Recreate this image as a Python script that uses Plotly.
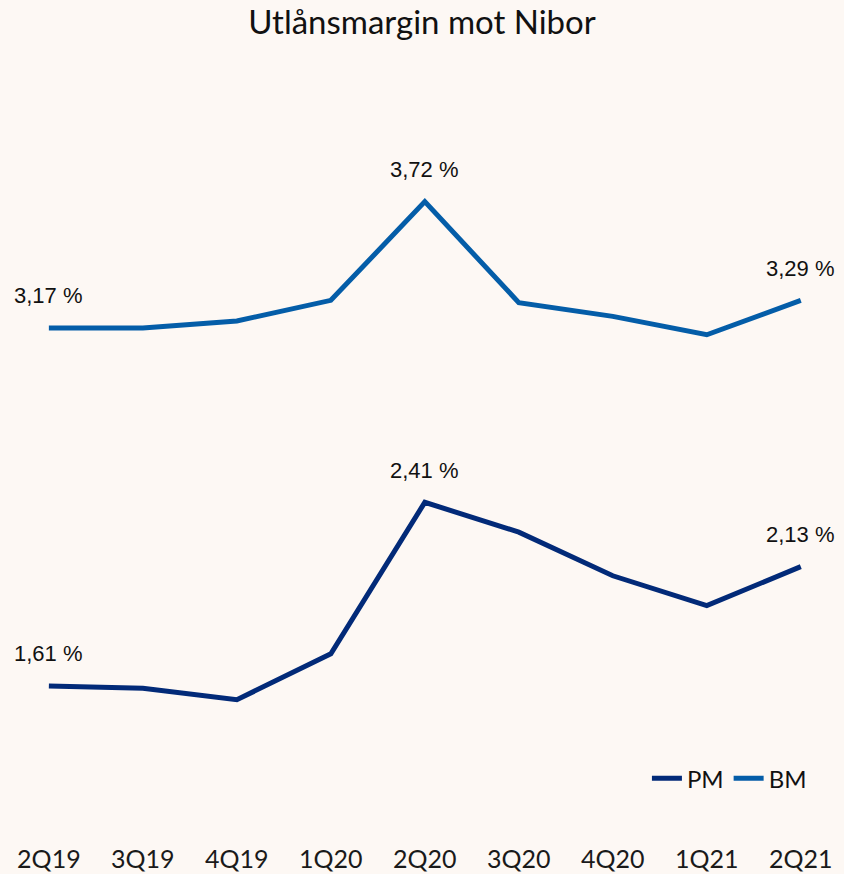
import plotly.graph_objects as go

quarters = ["2Q19", "3Q19", "4Q19", "1Q20", "2Q20", "3Q20", "4Q20", "1Q21", "2Q21"]
pm = [1.61, 1.60, 1.55, 1.75, 2.41, 2.28, 2.09, 1.96, 2.13]
bm = [3.17, 3.17, 3.20, 3.29, 3.72, 3.28, 3.22, 3.14, 3.29]
label_idx = [0, 4, 8]

PM_COLOR = "#022A78"
BM_COLOR = "#045DA8"
BG = "#FDF8F4"
FONT = "Lato"
LABEL_FONT = "Liberation Sans"

fig = go.Figure()
fig.add_trace(go.Scatter(x=quarters, y=pm, mode="lines", name="PM",
                         line=dict(color=PM_COLOR, width=5)))
fig.add_trace(go.Scatter(x=quarters, y=bm, mode="lines", name="BM",
                         line=dict(color=BM_COLOR, width=5)))

def fmt(v):
    return f"{v:.2f}".replace(".", ",") + " %"

annotations = []
for series in (pm, bm):
    for i in label_idx:
        annotations.append(dict(x=quarters[i], y=series[i], text=fmt(series[i]),
                                showarrow=False, yshift=32,
                                font=dict(family=LABEL_FONT, size=22, color="#111111")))

fig.update_layout(
    width=844, height=874,
    paper_bgcolor=BG, plot_bgcolor=BG,
    margin=dict(l=0, r=0, t=80, b=32),
    title=dict(text="Utlånsmargin mot Nibor", x=0.5, xanchor="center",
               y=0.974, yanchor="middle",
               font=dict(family=FONT, size=33, color="#111111")),
    xaxis=dict(type="category", range=[-0.52, 8.46], showgrid=False,
               zeroline=False, showline=False, ticks="",
               tickfont=dict(family=FONT, size=25, color="#1a1a1a")),
    yaxis=dict(range=[0.93, 4.25], visible=False, showgrid=False),
    showlegend=True,
    legend=dict(orientation="h", x=0.962, xanchor="right", y=0.083,
                yanchor="middle", bgcolor="rgba(0,0,0,0)",
                font=dict(family=FONT, size=24, color="#111111")),
    annotations=annotations,
)

fig.write_html("out.html", config={"displayModeBar": False},
               post_script="document.body.style.margin='0';document.body.style.padding='0';")
